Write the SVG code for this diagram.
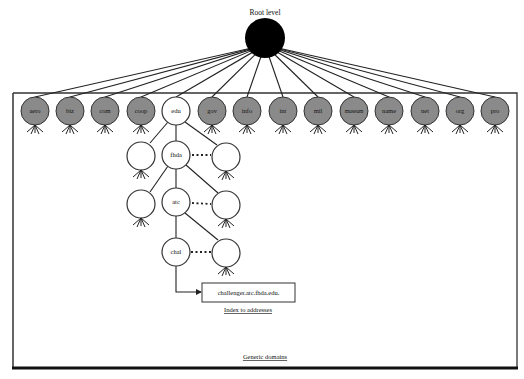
<svg xmlns="http://www.w3.org/2000/svg" width="524" height="379" viewBox="0 0 524 379">
<style>
.lbl{font-family:"Liberation Serif",serif;font-size:7.5px;fill:#111;text-anchor:middle}
.sm{font-family:"Liberation Serif",serif;font-size:6.5px;fill:#111;text-anchor:middle}
.g{fill:#8a8a8a;stroke:#333;stroke-width:1}
.w{fill:#fff;stroke:#333;stroke-width:1.2}
.ln{stroke:#222;stroke-width:1.1;fill:none}
.dot{stroke:#222;stroke-width:1.8;stroke-dasharray:2 2.5;fill:none}
.rt{stroke:#222;stroke-width:1;fill:none}
</style>
<defs>
<g id="roots">
<path class="rt" d="M0,0 L-8,7 M0,0 L-4,9 M0,0 L0,8 M0,0 L4,9 M0,0 L8,7"/>
</g>
<marker id="ah" markerWidth="6" markerHeight="6" refX="5" refY="3" orient="auto" markerUnits="userSpaceOnUse">
<path d="M0,0 L6,3 L0,6 z" fill="#222"/>
</marker>
</defs>
<rect width="524" height="379" fill="#fff"/>
<g id="frame">
<path d="M13,93 L517,93 L517,368" fill="none" stroke="#333" stroke-width="1.3"/>
<path d="M13,93 L13,368" fill="none" stroke="#333" stroke-width="1.5"/>
<path d="M12,368 L518,368" stroke="#111" stroke-width="3"/>
</g>
<g id="connectors">
<g class="ln">
<line x1="265" y1="45" x2="35" y2="97"/>
<line x1="265" y1="45" x2="70" y2="97"/>
<line x1="265" y1="45" x2="105" y2="97"/>
<line x1="265" y1="45" x2="141" y2="97"/>
<line x1="265" y1="45" x2="176" y2="97"/>
<line x1="265" y1="45" x2="212" y2="97"/>
<line x1="265" y1="45" x2="247" y2="97"/>
<line x1="265" y1="45" x2="283" y2="97"/>
<line x1="265" y1="45" x2="318" y2="97"/>
<line x1="265" y1="45" x2="354" y2="97"/>
<line x1="265" y1="45" x2="389" y2="97"/>
<line x1="265" y1="45" x2="425" y2="97"/>
<line x1="265" y1="45" x2="460" y2="97"/>
<line x1="265" y1="45" x2="495" y2="97"/>
<line x1="176" y1="125" x2="176" y2="141"/>
<line x1="168" y1="122" x2="150" y2="143"/>
<line x1="185" y1="122" x2="217" y2="145"/>
<line x1="176" y1="169" x2="176" y2="188"/>
<line x1="168" y1="166" x2="150" y2="192"/>
<line x1="186" y1="165" x2="218" y2="193"/>
<line x1="176" y1="216" x2="176" y2="238"/>
<line x1="185" y1="213" x2="218" y2="240"/>
<path d="M176,266 L176,292 L201,292" marker-end="url(#ah)"/>
</g>
<line class="dot" x1="192" y1="155" x2="211" y2="155"/>
<line class="dot" x1="192" y1="203" x2="211" y2="204"/>
<line class="dot" x1="191" y1="252" x2="211" y2="252"/>
</g>
<g id="root">
<text class="lbl" x="265" y="15">Root level</text>
<circle cx="265" cy="38" r="20" fill="#000"/>
</g>
<g id="n-aero"><circle class="g" cx="35" cy="111" r="14"/><use href="#roots" x="35" y="125"/><text class="sm" x="35" y="113">aero</text></g>
<g id="n-biz"><circle class="g" cx="70" cy="111" r="14"/><use href="#roots" x="70" y="125"/><text class="sm" x="70" y="113">biz</text></g>
<g id="n-com"><circle class="g" cx="105" cy="111" r="14"/><use href="#roots" x="105" y="125"/><text class="sm" x="105" y="113">com</text></g>
<g id="n-coop"><circle class="g" cx="141" cy="111" r="14"/><use href="#roots" x="141" y="125"/><text class="sm" x="141" y="113">coop</text></g>
<g id="n-edu"><circle class="w" cx="176" cy="111" r="14"/><text class="sm" x="176" y="113">edu</text></g>
<g id="n-gov"><circle class="g" cx="212" cy="111" r="14"/><use href="#roots" x="212" y="125"/><text class="sm" x="212" y="113">gov</text></g>
<g id="n-info"><circle class="g" cx="247" cy="111" r="14"/><use href="#roots" x="247" y="125"/><text class="sm" x="247" y="113">info</text></g>
<g id="n-int"><circle class="g" cx="283" cy="111" r="14"/><use href="#roots" x="283" y="125"/><text class="sm" x="283" y="113">int</text></g>
<g id="n-mil"><circle class="g" cx="318" cy="111" r="14"/><use href="#roots" x="318" y="125"/><text class="sm" x="318" y="113">mil</text></g>
<g id="n-museum"><circle class="g" cx="354" cy="111" r="14"/><use href="#roots" x="354" y="125"/><text class="sm" x="354" y="113" style="font-size:5.5px">museum</text></g>
<g id="n-name"><circle class="g" cx="389" cy="111" r="14"/><use href="#roots" x="389" y="125"/><text class="sm" x="389" y="113">name</text></g>
<g id="n-net"><circle class="g" cx="425" cy="111" r="14"/><use href="#roots" x="425" y="125"/><text class="sm" x="425" y="113">net</text></g>
<g id="n-org"><circle class="g" cx="460" cy="111" r="14"/><use href="#roots" x="460" y="125"/><text class="sm" x="460" y="113">org</text></g>
<g id="n-pro"><circle class="g" cx="495" cy="111" r="14"/><use href="#roots" x="495" y="125"/><text class="sm" x="495" y="113">pro</text></g>
<g id="n-l2a"><circle class="w" cx="141" cy="156" r="14"/><use href="#roots" x="141" y="170"/></g>
<g id="n-fhda"><circle class="w" cx="176" cy="155" r="14"/><text class="sm" x="176" y="157">fhda</text></g>
<g id="n-l2c"><circle class="w" cx="226" cy="157" r="14"/><use href="#roots" x="226" y="171"/></g>
<g id="n-l3a"><circle class="w" cx="141" cy="204" r="14"/><use href="#roots" x="141" y="218"/></g>
<g id="n-atc"><circle class="w" cx="176" cy="202" r="14"/><text class="sm" x="176" y="204">atc</text></g>
<g id="n-l3c"><circle class="w" cx="226" cy="205" r="14"/><use href="#roots" x="226" y="219"/></g>
<g id="n-chal"><circle class="w" cx="176" cy="252" r="14"/><text class="sm" x="176" y="254">chal</text></g>
<g id="n-l4c"><circle class="w" cx="226" cy="253" r="14"/><use href="#roots" x="226" y="267"/></g>
<g id="n-addr">
<rect x="202" y="283" width="93" height="19" fill="#fff" stroke="#333" stroke-width="1"/>
<text class="sm" x="248.5" y="295">challenger.atc.fhda.edu.</text>
<text class="sm" x="248" y="312" style="text-decoration:underline">Index to addresses</text>
</g>
<text class="sm" x="265" y="359" style="text-decoration:underline">Generic domains</text>
</svg>
